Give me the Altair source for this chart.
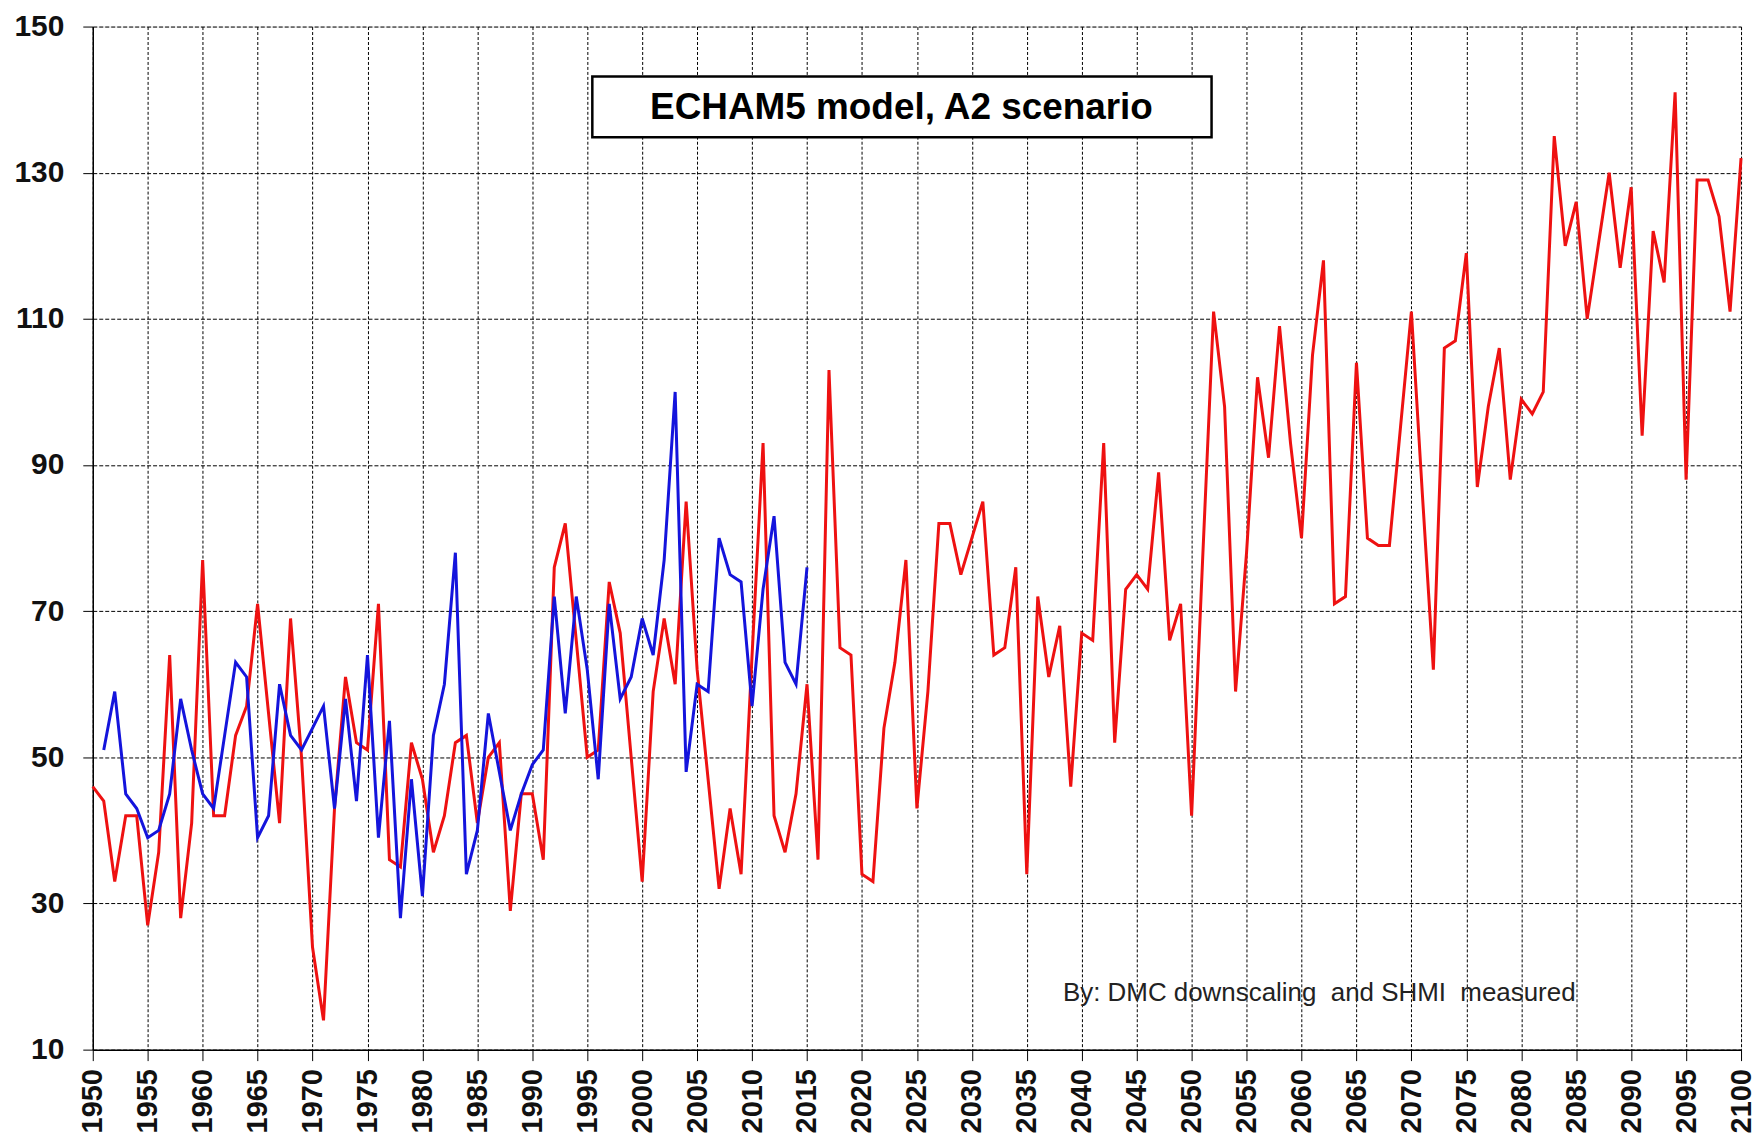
import altair as alt
import pandas as pd

model_years = list(range(1950, 2101))
model_values = [
    46, 44, 33, 42, 42, 27, 37, 64, 28, 41,
    77, 42, 42, 53, 57, 71, 56, 41, 69, 50,
    24, 14, 43, 61, 52, 51, 71, 36, 35, 52,
    47, 37, 42, 52, 53, 41, 50, 52, 29, 45,
    45, 36, 76, 82, 66, 50, 51, 74, 67, 50,
    33, 59, 69, 60, 85, 62, 47, 32, 43, 34,
    64, 93, 42, 37, 45, 60, 36, 103, 65, 64,
    34, 33, 54, 63, 77, 43, 59, 82, 82, 75,
    80, 85, 64, 65, 76, 34, 72, 61, 68, 46,
    67, 66, 93, 52, 73, 75, 73, 89, 66, 71,
    42, 77, 111, 98, 59, 78, 102, 91, 109, 93,
    80, 105, 118, 71, 72, 104, 80, 79, 79, 95,
    111, 86, 62, 106, 107, 119, 87, 98, 106, 88,
    99, 97, 100, 135, 120, 126, 110, 120, 130, 117,
    128, 94, 122, 115, 141, 88, 129, 129, 124, 111,
    132,
]

measured_years = list(range(1951, 2016))
measured_values = [
    51, 59, 45, 43, 39, 40, 45, 58, 51,
    45, 43, 53, 63, 61, 39, 42, 60, 53, 51,
    54, 57, 43, 58, 44, 64, 39, 55, 28, 47,
    31, 53, 60, 78, 34, 40, 56, 48, 40, 45,
    49, 51, 72, 56, 72, 62, 47, 71, 58, 61,
    69, 64, 77, 100, 48, 60, 59, 80, 75, 74,
    57, 73, 83, 63, 60, 76,
]

x_ticks = list(range(1950, 2101, 5))
y_ticks = [10, 30, 50, 70, 90, 110, 130, 150]
title_text = "ECHAM5 model, A2 scenario"
credit_text = "By: DMC downscaling\u00a0 and SHMI\u00a0 measured"

FONT = "Liberation Sans"
W, H = 1653, 1026

model_df = pd.DataFrame({"year": model_years, "value": model_values, "series": "model"})
meas_df = pd.DataFrame({"year": measured_years, "value": measured_values, "series": "measured"})

x_enc = alt.X(
    "year:Q",
    scale=alt.Scale(domain=[1950, 2100], nice=False, zero=False),
    axis=alt.Axis(
        values=x_ticks, format="d", labelAngle=-90, title=None,
        labelFont=FONT, labelFontSize=29, labelFontWeight="bold", labelColor="#111",
        labelPadding=8, tickSize=11, tickColor="black", domainColor="black",
        domainWidth=1.5, grid=True, gridColor="black", gridDash=[3, 2],
        gridWidth=1, gridOpacity=1, labelOverlap=False,
    ),
)
y_enc = alt.Y(
    "value:Q",
    scale=alt.Scale(domain=[10, 150], nice=False, zero=False),
    axis=alt.Axis(
        values=y_ticks, format="d", title=None,
        labelFont=FONT, labelFontSize=30, labelFontWeight="bold", labelColor="#111",
        labelPadding=19, tickSize=10, tickColor="black", domainColor="black",
        domainWidth=1.5, grid=True, gridColor="black", gridDash=[4, 2],
        gridWidth=1, gridOpacity=1, labelOverlap=False,
    ),
)

red = alt.Chart(model_df).mark_line(color="#ee1111", strokeWidth=3).encode(x=x_enc, y=y_enc)
blue = alt.Chart(meas_df).mark_line(color="#1414dc", strokeWidth=3).encode(x="year:Q", y="value:Q")

box_df = pd.DataFrame({"t": [title_text]})
box = alt.Chart(box_df).mark_rect(fill="white", stroke="black", strokeWidth=2.5).encode(
    x=alt.value(501), x2=alt.value(1122), y=alt.value(50), y2=alt.value(111)
)
title = alt.Chart(box_df).mark_text(
    font=FONT, fontSize=37, fontWeight="bold", color="black", align="center", baseline="middle"
).encode(x=alt.value(811), y=alt.value(82), text="t:N")

credit = alt.Chart(pd.DataFrame({"t": [credit_text]})).mark_text(
    font=FONT, fontSize=26, color="#222", align="left", baseline="middle"
).encode(x=alt.value(973), y=alt.value(969), text="t:N")

chart = alt.layer(red, blue, box, title, credit).properties(
    width=W, height=H,
    autosize=alt.AutoSizeParams(type="none"),
    padding={"left": 85, "top": 17, "right": 14, "bottom": 83},
).configure_view(stroke="black", strokeWidth=1.5).configure(background="white")

chart.save("out.html", embed_options={"renderer": "svg", "actions": False})
